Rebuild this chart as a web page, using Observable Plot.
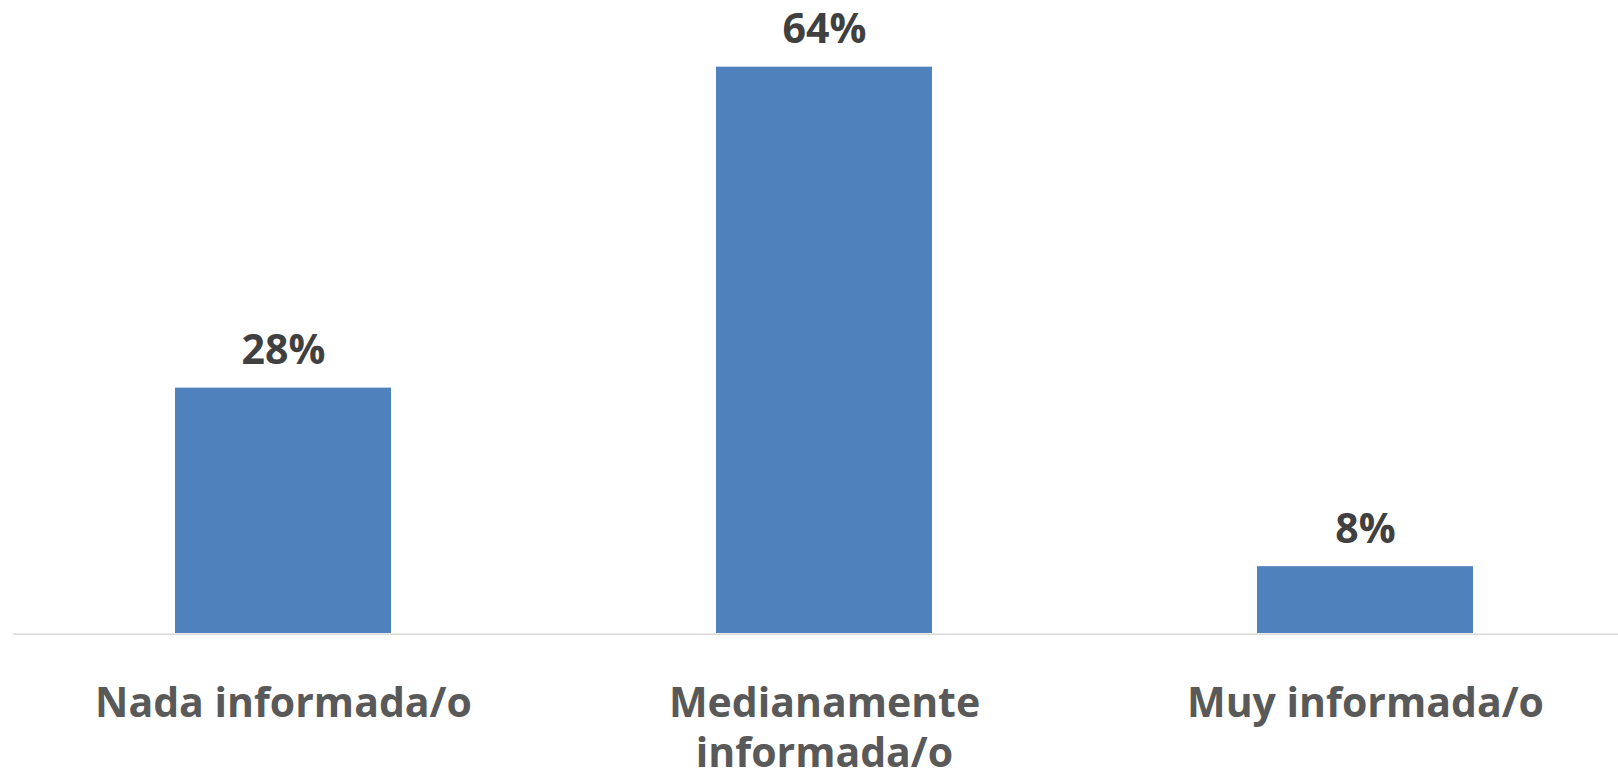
<!DOCTYPE html>
<html>
<head>
<meta charset="utf-8">
<script src="https://cdn.jsdelivr.net/npm/d3@7"></script>
<script src="https://cdn.jsdelivr.net/npm/@observablehq/plot@0.6"></script>
<style>
  html, body { margin: 0; padding: 0; background: #fff; }
  #chart svg { display: block; }
</style>
</head>
<body>
<div id="chart"></div>
<script>
// Data
const categories = ["Nada informada/o", "Medianamente informada/o", "Muy informada/o"];
const values = [27.9, 64.4, 7.6];
const tickLabels = ["Nada informada/o", "Medianamente\ninformada/o", "Muy informada/o"];

const data = categories.map((c, i) => ({category: c, value: values[i], label: `${Math.round(values[i])}%`}));
const tickMap = new Map(categories.map((c, i) => [c, tickLabels[i]]));

const FONT = "'Open Sans', sans-serif";
const fs = 41;

const chart = Plot.plot({
  width: 1618,
  height: 775,
  marginTop: 17.4,
  marginBottom: 142,
  marginLeft: 13,
  marginRight: 0,
  style: {fontFamily: FONT, background: "#fff", overflow: "hidden"},
  x: {domain: categories, range: [13, 1636], paddingInner: 0.6, paddingOuter: 0.3, axis: null},
  y: {domain: [0, 70], axis: null},
  marks: [
    Plot.barY(data, {x: "category", y: "value", fill: "#4F81BD"}),
    Plot.ruleY([0], {stroke: "#D9D9D9", strokeWidth: 1.6, dy: 0.8}),
    Plot.text(data, {x: "category", y: "value", text: "label", fill: "#404040",
      fontSize: fs, fontWeight: "bold", fontFamily: FONT, lineAnchor: "bottom", dy: -24}),
    Plot.axisX({domain: categories, tickSize: 0, tickPadding: 77 - 0.71 * fs, fontSize: fs,
      fontWeight: "bold", fontFamily: FONT, color: "#595959", fill: "#595959",
      lineHeight: 50 / fs, lineAnchor: "top", tickFormat: d => tickMap.get(d), label: null})
  ]
});
document.getElementById("chart").appendChild(chart);
</script>
</body>
</html>
